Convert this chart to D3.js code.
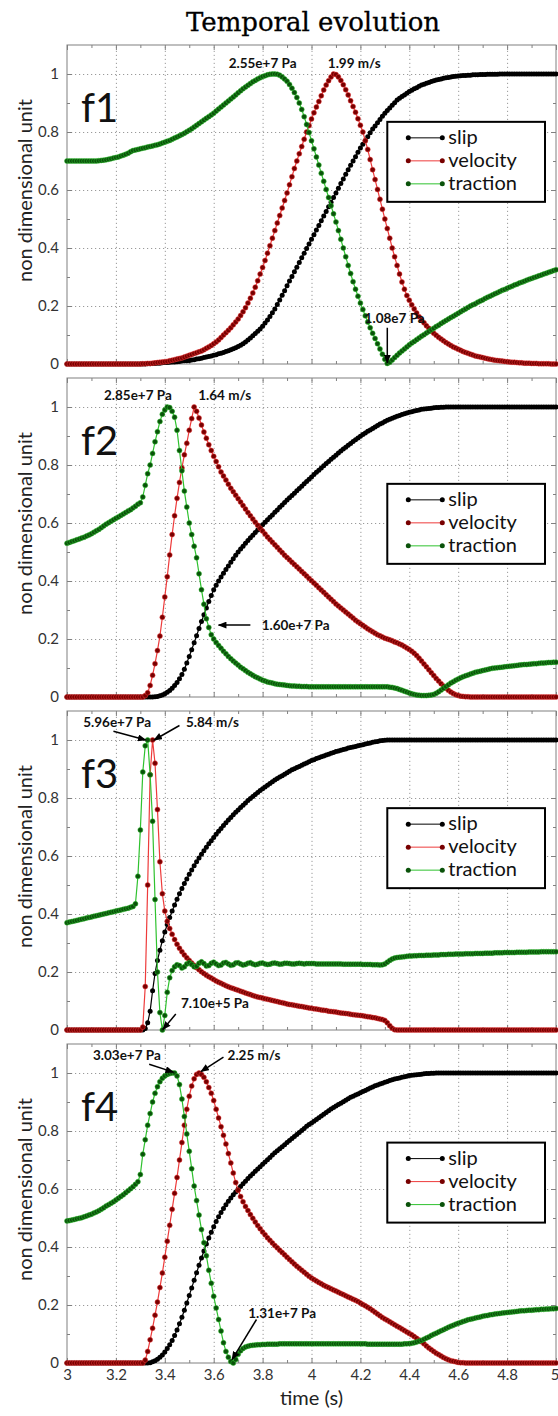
<!DOCTYPE html>
<html>
<head>
<meta charset="utf-8">
<script src="https://cdn.jsdelivr.net/npm/d3@7"></script>
<style>
  body { margin: 0; background: #fff; }
  .grid line { stroke: #9a9a9a; stroke-dasharray: 1.2,2.8; }
  .grid .domain, .ticks .domain { display: none; }
  .ticks line { stroke: #808080; }
</style>
</head>
<body>
<div id="chart"></div>
<script>
// samples every 0.01 s from 3.00 to 5.00 s (201 values per series)
const slipF1 = [
  0,0,0,0,0,0,0,0,0,0,
  0,0,0,0,0,0,0,0,0,0,
  0,0,0,0,0,0,0,0,0,0,
  0,0,0,0.001,0.001,0.002,0.002,0.003,0.003,0.004,
  0.005,0.005,0.006,0.007,0.007,0.008,0.009,0.01,0.011,0.011,
  0.012,0.014,0.015,0.017,0.018,0.02,0.022,0.024,0.026,0.028,
  0.03,0.032,0.035,0.037,0.04,0.043,0.046,0.049,0.053,0.056,
  0.06,0.065,0.07,0.076,0.083,0.09,0.097,0.105,0.113,0.121,
  0.13,0.141,0.152,0.164,0.177,0.19,0.205,0.221,0.237,0.253,
  0.27,0.286,0.302,0.318,0.334,0.35,0.366,0.382,0.398,0.414,
  0.43,0.446,0.462,0.478,0.494,0.51,0.526,0.542,0.558,0.574,
  0.59,0.606,0.622,0.638,0.654,0.67,0.685,0.7,0.715,0.73,
  0.745,0.758,0.771,0.784,0.797,0.81,0.821,0.832,0.843,0.854,
  0.865,0.874,0.883,0.892,0.901,0.91,0.916,0.922,0.928,0.934,
  0.94,0.944,0.949,0.953,0.958,0.962,0.965,0.968,0.971,0.974,
  0.977,0.979,0.981,0.983,0.985,0.987,0.988,0.99,0.991,0.992,
  0.993,0.994,0.995,0.995,0.996,0.996,0.997,0.997,0.997,0.998,
  0.998,0.998,0.999,0.999,0.999,0.999,0.999,1,1,1,
  1,1,1,1,1,1,1,1,1,1,
  1,1,1,1,1,1,1,1,1,1,
  1
];
const velocityF1 = [
  0,0,0,0,0,0,0,0,0,0,
  0,0,0,0,0,0,0,0,0,0,
  0,0,0,0,0,0,0,0,0,0,
  0,0.001,0.001,0.002,0.002,0.003,0.004,0.005,0.006,0.007,
  0.008,0.009,0.011,0.013,0.015,0.017,0.019,0.021,0.024,0.027,
  0.03,0.033,0.036,0.039,0.042,0.045,0.049,0.054,0.059,0.064,
  0.07,0.076,0.083,0.091,0.1,0.108,0.116,0.125,0.135,0.145,
  0.155,0.167,0.18,0.194,0.21,0.227,0.245,0.265,0.287,0.31,
  0.333,0.357,0.382,0.408,0.434,0.46,0.486,0.512,0.538,0.564,
  0.59,0.618,0.646,0.674,0.7,0.725,0.75,0.775,0.8,0.822,
  0.845,0.866,0.886,0.905,0.925,0.945,0.962,0.977,0.99,1,
  0.998,0.99,0.978,0.963,0.946,0.928,0.908,0.888,0.868,0.846,
  0.823,0.8,0.77,0.74,0.705,0.67,0.636,0.602,0.568,0.534,
  0.5,0.467,0.434,0.4,0.37,0.34,0.31,0.283,0.258,0.236,
  0.22,0.204,0.19,0.176,0.163,0.152,0.142,0.132,0.123,0.114,
  0.106,0.099,0.092,0.086,0.08,0.074,0.069,0.064,0.059,0.055,
  0.051,0.047,0.043,0.04,0.037,0.034,0.031,0.028,0.026,0.024,
  0.022,0.02,0.018,0.016,0.015,0.013,0.012,0.011,0.01,0.009,
  0.008,0.007,0.006,0.006,0.005,0.004,0.004,0.003,0.003,0.003,
  0.002,0.002,0.002,0.001,0.001,0.001,0.001,0.001,0,0,
  0
];
const tractionF1 = [
  0.7,0.7,0.7,0.7,0.7,0.7,0.7,0.7,0.7,0.7,
  0.7,0.7,0.7,0.701,0.702,0.703,0.704,0.706,0.708,0.71,
  0.712,0.714,0.717,0.72,0.723,0.727,0.732,0.736,0.738,0.74,
  0.742,0.744,0.746,0.748,0.75,0.752,0.754,0.756,0.759,0.762,
  0.765,0.768,0.771,0.775,0.779,0.783,0.787,0.791,0.796,0.801,
  0.806,0.811,0.817,0.823,0.829,0.835,0.841,0.847,0.853,0.859,
  0.865,0.872,0.879,0.886,0.893,0.9,0.907,0.914,0.921,0.928,
  0.935,0.942,0.949,0.955,0.961,0.967,0.973,0.978,0.983,0.987,
  0.991,0.994,0.997,0.999,1,1,0.999,0.996,0.99,0.983,
  0.975,0.964,0.951,0.936,0.919,0.9,0.878,0.853,0.826,0.798,
  0.77,0.742,0.714,0.686,0.658,0.63,0.602,0.574,0.546,0.518,
  0.49,0.46,0.43,0.4,0.37,0.34,0.312,0.284,0.258,0.234,
  0.21,0.188,0.166,0.145,0.125,0.106,0.088,0.07,0.052,0.034,
  0.016,0.002,0.006,0.014,0.022,0.03,0.038,0.045,0.052,0.059,
  0.066,0.072,0.078,0.084,0.09,0.096,0.101,0.107,0.112,0.118,
  0.123,0.129,0.134,0.14,0.145,0.15,0.155,0.16,0.165,0.17,
  0.175,0.18,0.185,0.19,0.195,0.2,0.204,0.208,0.213,0.217,
  0.221,0.226,0.23,0.234,0.238,0.242,0.246,0.25,0.254,0.257,
  0.261,0.265,0.268,0.272,0.275,0.279,0.282,0.285,0.289,0.292,
  0.295,0.298,0.301,0.304,0.307,0.31,0.313,0.316,0.319,0.322,
  0.325
];

const slipF2 = [
  0,0,0,0,0,0,0,0,0,0,
  0,0,0,0,0,0,0,0,0,0,
  0,0,0,0,0,0,0,0,0,0,
  0,0,0,0,0,0,0.001,0.002,0.004,0.007,
  0.011,0.016,0.022,0.03,0.04,0.05,0.063,0.078,0.096,0.117,
  0.14,0.163,0.187,0.211,0.236,0.26,0.284,0.307,0.329,0.35,
  0.37,0.385,0.4,0.414,0.427,0.44,0.452,0.465,0.477,0.489,
  0.5,0.51,0.52,0.53,0.54,0.549,0.558,0.567,0.576,0.585,
  0.594,0.603,0.611,0.62,0.628,0.637,0.645,0.654,0.662,0.671,
  0.679,0.687,0.695,0.703,0.711,0.719,0.727,0.735,0.743,0.751,
  0.759,0.767,0.775,0.782,0.79,0.797,0.805,0.812,0.82,0.827,
  0.834,0.841,0.848,0.855,0.861,0.868,0.874,0.881,0.887,0.893,
  0.899,0.905,0.91,0.916,0.921,0.926,0.931,0.936,0.941,0.945,
  0.95,0.954,0.958,0.961,0.965,0.968,0.971,0.974,0.977,0.979,
  0.982,0.984,0.986,0.988,0.99,0.992,0.993,0.994,0.995,0.996,
  0.997,0.998,0.998,0.999,0.999,1,1,1,1,1,
  1,1,1,1,1,1,1,1,1,1,
  1,1,1,1,1,1,1,1,1,1,
  1,1,1,1,1,1,1,1,1,1,
  1,1,1,1,1,1,1,1,1,1,
  1
];
const velocityF2 = [
  0,0,0,0,0,0,0,0,0,0,
  0,0,0,0,0,0,0,0,0,0,
  0,0,0,0,0,0,0,0,0,0,
  0,0,0.005,0.015,0.04,0.075,0.115,0.16,0.21,0.275,
  0.345,0.415,0.49,0.56,0.625,0.685,0.74,0.79,0.835,0.875,
  0.92,0.96,1,0.985,0.962,0.938,0.914,0.892,0.87,0.85,
  0.83,0.812,0.794,0.776,0.762,0.748,0.734,0.72,0.708,0.696,
  0.684,0.672,0.66,0.648,0.636,0.625,0.614,0.603,0.592,0.582,
  0.572,0.562,0.552,0.543,0.534,0.525,0.516,0.507,0.498,0.489,
  0.481,0.473,0.465,0.457,0.449,0.441,0.433,0.425,0.417,0.409,
  0.401,0.393,0.385,0.377,0.369,0.361,0.353,0.345,0.337,0.329,
  0.321,0.314,0.307,0.3,0.293,0.286,0.279,0.272,0.265,0.259,
  0.253,0.247,0.241,0.235,0.23,0.225,0.22,0.215,0.211,0.207,
  0.203,0.2,0.197,0.194,0.19,0.187,0.183,0.179,0.174,0.169,
  0.164,0.158,0.151,0.143,0.134,0.124,0.114,0.104,0.094,0.084,
  0.074,0.064,0.055,0.046,0.038,0.03,0.023,0.017,0.012,0.008,
  0.005,0.003,0.002,0.001,0.001,0,0,0,0,0,
  0,0,0,0,0,0,0,0,0,0,
  0,0,0,0,0,0,0,0,0,0,
  0,0,0,0,0,0,0,0,0,0,
  0
];
const tractionF2 = [
  0.53,0.533,0.536,0.539,0.542,0.545,0.548,0.551,0.555,0.559,
  0.563,0.568,0.573,0.578,0.584,0.59,0.596,0.601,0.606,0.611,
  0.616,0.621,0.626,0.631,0.636,0.641,0.646,0.652,0.658,0.665,
  0.67,0.69,0.73,0.77,0.8,0.84,0.88,0.915,0.95,0.975,
  0.99,1,0.998,0.985,0.965,0.92,0.85,0.78,0.71,0.655,
  0.6,0.56,0.52,0.48,0.425,0.37,0.32,0.27,0.24,0.215,
  0.2,0.188,0.178,0.168,0.158,0.149,0.14,0.132,0.124,0.117,
  0.11,0.103,0.097,0.091,0.085,0.08,0.075,0.07,0.066,0.062,
  0.058,0.055,0.052,0.05,0.048,0.046,0.044,0.043,0.042,0.041,
  0.04,0.039,0.038,0.038,0.037,0.037,0.036,0.036,0.036,0.035,
  0.035,0.035,0.035,0.035,0.035,0.035,0.035,0.035,0.035,0.035,
  0.035,0.035,0.035,0.035,0.035,0.035,0.035,0.035,0.035,0.035,
  0.035,0.035,0.035,0.035,0.035,0.035,0.035,0.035,0.035,0.035,
  0.035,0.035,0.034,0.033,0.031,0.029,0.026,0.023,0.02,0.017,
  0.014,0.011,0.009,0.007,0.006,0.005,0.005,0.005,0.006,0.007,
  0.009,0.013,0.018,0.024,0.03,0.036,0.042,0.048,0.053,0.058,
  0.062,0.066,0.07,0.073,0.076,0.079,0.082,0.085,0.087,0.089,
  0.091,0.093,0.095,0.097,0.099,0.1,0.101,0.102,0.103,0.104,
  0.105,0.106,0.107,0.108,0.109,0.11,0.111,0.112,0.112,0.113,
  0.114,0.115,0.115,0.116,0.117,0.117,0.118,0.119,0.119,0.12,
  0.12
];

const slipF3 = [
  0,0,0,0,0,0,0,0,0,0,
  0,0,0,0,0,0,0,0,0,0,
  0,0,0,0,0,0,0,0,0,0,
  0,0,0.005,0.025,0.065,0.135,0.195,0.24,0.275,0.308,
  0.338,0.364,0.388,0.41,0.431,0.451,0.47,0.488,0.505,0.521,
  0.537,0.552,0.566,0.58,0.593,0.606,0.618,0.63,0.642,0.653,
  0.664,0.675,0.685,0.695,0.705,0.715,0.724,0.733,0.742,0.751,
  0.759,0.767,0.775,0.783,0.791,0.798,0.805,0.812,0.819,0.826,
  0.832,0.838,0.844,0.85,0.856,0.862,0.867,0.872,0.877,0.882,
  0.887,0.892,0.897,0.901,0.905,0.909,0.913,0.917,0.921,0.925,
  0.929,0.932,0.936,0.939,0.942,0.945,0.948,0.951,0.954,0.957,
  0.96,0.962,0.965,0.967,0.969,0.972,0.974,0.976,0.978,0.98,
  0.982,0.984,0.986,0.988,0.99,0.992,0.994,0.995,0.997,0.998,
  0.999,1,1,1,1,1,1,1,1,1,
  1,1,1,1,1,1,1,1,1,1,
  1,1,1,1,1,1,1,1,1,1,
  1,1,1,1,1,1,1,1,1,1,
  1,1,1,1,1,1,1,1,1,1,
  1,1,1,1,1,1,1,1,1,1,
  1,1,1,1,1,1,1,1,1,1,
  1
];
const velocityF3 = [
  0,0,0,0,0,0,0,0,0,0,
  0,0,0,0,0,0,0,0,0,0,
  0,0,0,0,0,0,0,0,0,0,
  0,0.01,0.15,0.5,0.88,1,0.92,0.76,0.58,0.47,
  0.41,0.375,0.35,0.33,0.312,0.296,0.282,0.27,0.259,0.249,
  0.24,0.231,0.223,0.215,0.208,0.201,0.195,0.189,0.184,0.179,
  0.174,0.169,0.165,0.161,0.157,0.153,0.149,0.146,0.143,0.14,
  0.137,0.134,0.131,0.128,0.125,0.122,0.119,0.116,0.114,0.112,
  0.11,0.108,0.106,0.104,0.102,0.1,0.098,0.096,0.094,0.092,
  0.09,0.088,0.087,0.085,0.084,0.082,0.081,0.079,0.078,0.076,
  0.075,0.073,0.072,0.071,0.069,0.068,0.067,0.065,0.064,0.063,
  0.062,0.06,0.059,0.058,0.057,0.056,0.054,0.053,0.052,0.051,
  0.05,0.049,0.047,0.046,0.045,0.043,0.042,0.04,0.038,0.036,
  0.033,0.025,0.015,0.006,0.001,0,0,0,0,0,
  0,0,0,0,0,0,0,0,0,0,
  0,0,0,0,0,0,0,0,0,0,
  0,0,0,0,0,0,0,0,0,0,
  0,0,0,0,0,0,0,0,0,0,
  0,0,0,0,0,0,0,0,0,0,
  0,0,0,0,0,0,0,0,0,0,
  0
];
const tractionF3 = [
  0.37,0.372,0.374,0.376,0.378,0.38,0.382,0.384,0.386,0.388,
  0.39,0.392,0.394,0.396,0.398,0.4,0.402,0.404,0.406,0.408,
  0.41,0.412,0.414,0.416,0.418,0.42,0.423,0.426,0.435,0.53,
  0.69,0.89,0.98,1,0.88,0.72,0.45,0.2,0.06,0,
  0.05,0.13,0.18,0.205,0.218,0.225,0.222,0.214,0.218,0.228,
  0.232,0.226,0.218,0.22,0.23,0.235,0.229,0.221,0.222,0.23,
  0.234,0.228,0.222,0.224,0.231,0.233,0.228,0.223,0.225,0.231,
  0.232,0.228,0.224,0.226,0.23,0.232,0.228,0.225,0.227,0.23,
  0.231,0.228,0.226,0.227,0.23,0.231,0.229,0.227,0.228,0.23,
  0.23,0.229,0.228,0.228,0.229,0.23,0.229,0.228,0.229,0.229,
  0.229,0.229,0.228,0.228,0.228,0.228,0.228,0.228,0.228,0.228,
  0.228,0.228,0.228,0.227,0.227,0.227,0.227,0.227,0.227,0.227,
  0.227,0.226,0.226,0.226,0.226,0.225,0.225,0.225,0.224,0.225,
  0.228,0.234,0.24,0.245,0.248,0.25,0.251,0.252,0.253,0.254,
  0.255,0.255,0.256,0.256,0.257,0.257,0.257,0.258,0.258,0.258,
  0.259,0.259,0.259,0.26,0.26,0.26,0.261,0.261,0.261,0.262,
  0.262,0.262,0.262,0.263,0.263,0.263,0.263,0.264,0.264,0.264,
  0.264,0.265,0.265,0.265,0.265,0.266,0.266,0.266,0.266,0.267,
  0.267,0.267,0.267,0.267,0.268,0.268,0.268,0.268,0.268,0.269,
  0.269,0.269,0.269,0.269,0.27,0.27,0.27,0.27,0.27,0.27,
  0.27
];

const slipF4 = [
  0,0,0,0,0,0,0,0,0,0,
  0,0,0,0,0,0,0,0,0,0,
  0,0,0,0,0,0,0,0,0,0,
  0,0,0,0,0.001,0.004,0.008,0.013,0.02,0.028,
  0.038,0.05,0.063,0.078,0.095,0.114,0.135,0.158,0.182,0.207,
  0.233,0.259,0.285,0.311,0.337,0.362,0.386,0.41,0.431,0.451,
  0.47,0.488,0.504,0.519,0.533,0.546,0.558,0.569,0.58,0.59,
  0.6,0.609,0.618,0.627,0.636,0.645,0.653,0.661,0.669,0.677,
  0.685,0.693,0.701,0.709,0.717,0.725,0.732,0.739,0.746,0.753,
  0.76,0.767,0.774,0.781,0.788,0.795,0.802,0.809,0.816,0.822,
  0.828,0.834,0.84,0.846,0.852,0.858,0.864,0.87,0.876,0.881,
  0.886,0.891,0.896,0.901,0.906,0.911,0.916,0.92,0.924,0.928,
  0.932,0.936,0.94,0.944,0.948,0.952,0.956,0.959,0.962,0.965,
  0.968,0.971,0.974,0.977,0.979,0.981,0.983,0.985,0.987,0.989,
  0.991,0.992,0.993,0.994,0.995,0.996,0.997,0.998,0.998,0.999,
  0.999,1,1,1,1,1,1,1,1,1,
  1,1,1,1,1,1,1,1,1,1,
  1,1,1,1,1,1,1,1,1,1,
  1,1,1,1,1,1,1,1,1,1,
  1,1,1,1,1,1,1,1,1,1,
  1
];
const velocityF4 = [
  0,0,0,0,0,0,0,0,0,0,
  0,0,0,0,0,0,0,0,0,0,
  0,0,0,0,0,0,0,0,0,0,
  0,0,0.01,0.04,0.08,0.12,0.165,0.21,0.26,0.31,
  0.365,0.42,0.475,0.53,0.585,0.64,0.7,0.76,0.82,0.875,
  0.92,0.955,0.98,0.995,1,0.995,0.985,0.97,0.95,0.93,
  0.905,0.875,0.845,0.815,0.785,0.755,0.722,0.69,0.655,0.622,
  0.596,0.574,0.556,0.54,0.526,0.512,0.499,0.486,0.474,0.463,
  0.452,0.442,0.432,0.423,0.414,0.405,0.397,0.389,0.381,0.373,
  0.365,0.357,0.349,0.341,0.334,0.327,0.32,0.313,0.306,0.299,
  0.293,0.288,0.283,0.278,0.273,0.268,0.264,0.26,0.256,0.252,
  0.248,0.244,0.24,0.236,0.232,0.228,0.224,0.22,0.216,0.212,
  0.207,0.202,0.197,0.192,0.187,0.181,0.175,0.169,0.163,0.157,
  0.152,0.147,0.142,0.137,0.132,0.127,0.122,0.117,0.112,0.107,
  0.102,0.097,0.091,0.085,0.079,0.073,0.066,0.059,0.052,0.046,
  0.04,0.034,0.029,0.024,0.019,0.015,0.011,0.008,0.006,0.004,
  0.002,0.001,0.001,0,0,0,0,0,0,0,
  0,0,0,0,0,0,0,0,0,0,
  0,0,0,0,0,0,0,0,0,0,
  0,0,0,0,0,0,0,0,0,0,
  0
];
const tractionF4 = [
  0.49,0.491,0.493,0.495,0.497,0.499,0.501,0.504,0.507,0.51,
  0.513,0.517,0.521,0.525,0.53,0.535,0.541,0.546,0.551,0.556,
  0.562,0.568,0.574,0.58,0.587,0.594,0.601,0.608,0.616,0.625,
  0.65,0.72,0.77,0.82,0.86,0.9,0.93,0.953,0.97,0.982,
  0.99,0.995,0.998,1,1,0.99,0.96,0.91,0.85,0.79,
  0.73,0.67,0.61,0.56,0.51,0.46,0.415,0.37,0.32,0.275,
  0.23,0.19,0.15,0.11,0.07,0.04,0.02,0.005,0,0.012,
  0.03,0.042,0.05,0.055,0.058,0.06,0.061,0.062,0.063,0.063,
  0.064,0.064,0.065,0.065,0.065,0.065,0.065,0.066,0.066,0.066,
  0.066,0.066,0.066,0.066,0.066,0.066,0.066,0.066,0.066,0.066,
  0.066,0.066,0.066,0.066,0.066,0.066,0.066,0.066,0.066,0.066,
  0.066,0.066,0.066,0.066,0.066,0.066,0.066,0.066,0.066,0.066,
  0.066,0.066,0.066,0.065,0.065,0.065,0.065,0.065,0.065,0.065,
  0.065,0.065,0.065,0.065,0.065,0.065,0.065,0.065,0.066,0.066,
  0.067,0.068,0.07,0.072,0.075,0.078,0.082,0.086,0.09,0.095,
  0.099,0.103,0.107,0.111,0.115,0.119,0.123,0.127,0.13,0.134,
  0.137,0.14,0.143,0.146,0.149,0.151,0.153,0.155,0.157,0.159,
  0.161,0.163,0.164,0.166,0.167,0.169,0.17,0.171,0.172,0.173,
  0.174,0.175,0.176,0.177,0.178,0.179,0.18,0.18,0.181,0.182,
  0.182,0.183,0.184,0.184,0.185,0.185,0.186,0.186,0.187,0.187,
  0.188
];

const panelLabels = ["f1", "f2", "f3", "f4"];
const seriesNames = ["slip", "velocity", "traction"];
const xTicks = [3, 3.2, 3.4, 3.6, 3.8, 4, 4.2, 4.4, 4.6, 4.8, 5];
const xMinor = [3.1, 3.3, 3.5, 3.7, 3.9, 4.1, 4.3, 4.5, 4.7, 4.9];
const yTicks = [0, 0.2, 0.4, 0.6, 0.8, 1];
const yMinor = [0.1, 0.3, 0.5, 0.7, 0.9];
const legendTop = [0.835, 0.735, 0.765, 0.76];

// peak / minimum annotations, in data units
const notesF1 = [
  { text: "2.55e+7 Pa", tx: 3.80, ty: 1.022 },
  { text: "1.99 m/s", tx: 4.175, ty: 1.022 },
  { text: "1.08e7 Pa", tx: 4.34, ty: 0.142, x1: 4.31, y1: 0.125, x2: 4.31, y2: 0.004 }
];
const notesF2 = [
  { text: "2.85e+7 Pa", tx: 3.29, ty: 1.025 },
  { text: "1.64 m/s", tx: 3.645, ty: 1.025 },
  { text: "1.60e+7 Pa", tx: 3.935, ty: 0.23, x1: 3.75, y1: 0.248, x2: 3.62, y2: 0.248 }
];
const notesF3 = [
  { text: "5.96e+7 Pa", tx: 3.205, ty: 1.045, x1: 3.19, y1: 1.03, x2: 3.322, y2: 1.0 },
  { text: "5.84 m/s", tx: 3.595, ty: 1.045, x1: 3.46, y1: 1.05, x2: 3.356, y2: 1.0 },
  { text: "7.10e+5 Pa", tx: 3.605, ty: 0.075, x1: 3.445, y1: 0.055, x2: 3.392, y2: 0.002 }
];
const notesF4 = [
  { text: "3.03e+7 Pa", tx: 3.245, ty: 1.045, x1: 3.336, y1: 1.03, x2: 3.435, y2: 1.003 },
  { text: "2.25 m/s", tx: 3.765, ty: 1.045, x1: 3.64, y1: 1.055, x2: 3.548, y2: 1.005 },
  { text: "1.31e+7 Pa", tx: 3.88, ty: 0.155, x1: 3.775, y1: 0.15, x2: 3.675, y2: 0.012 }
];

const time = d3.range(201).map(i => Math.round((3 + i * 0.01) * 100) / 100);

const panels = [
  { slip: slipF1, velocity: velocityF1, traction: tractionF1, notes: notesF1 },
  { slip: slipF2, velocity: velocityF2, traction: tractionF2, notes: notesF2 },
  { slip: slipF3, velocity: velocityF3, traction: tractionF3, notes: notesF3 },
  { slip: slipF4, velocity: velocityF4, traction: tractionF4, notes: notesF4 }
];
panels.forEach((p, i) => seriesNames.forEach(s => {
  if (p[s].length !== time.length) throw new Error(`${panelLabels[i]} ${s}: ${p[s].length}`);
}));

const lineColor = { slip: "#000", velocity: "#ee3b3b", traction: "#2fc22f" };
const dotColor = { slip: "#000", velocity: "#780000", traction: "#0a520a" };

const width = 558, height = 1416;
const left = 67, right = 556;
const panelH = 319, firstTop = 45, panelStep = 333;
const font = "Lato, 'Open Sans', sans-serif";

const svg = d3.select("#chart").append("svg")
  .attr("width", width)
  .attr("height", height)
  .style("font-family", font);

svg.append("defs").append("marker")
  .attr("id", "arrow")
  .attr("viewBox", "0 0 10 8")
  .attr("refX", 9).attr("refY", 4)
  .attr("markerUnits", "userSpaceOnUse")
  .attr("markerWidth", 9).attr("markerHeight", 7)
  .attr("orient", "auto")
  .append("path")
  .attr("d", "M0,0L10,4L0,8Z")
  .attr("fill", "#000");

const x = d3.scaleLinear().domain([3, 5]).range([left, right]);
const y = d3.scaleLinear().domain([0, 1.1]).range([panelH, 0]);

svg.append("text")
  .attr("x", 313).attr("y", 31)
  .attr("text-anchor", "middle")
  .style("font-family", "'DejaVu Serif', serif")
  .style("font-size", "26px")
  .attr("fill", "#000")
  .attr("stroke", "#000").attr("stroke-width", 0.3)
  .text("Temporal evolution");

panels.forEach((p, i) => {
  const top = firstTop + i * panelStep;
  const g = svg.append("g").attr("transform", `translate(0,${top})`);

  // dotted grid
  g.append("g").attr("class", "grid")
    .attr("transform", `translate(0,${panelH})`)
    .call(d3.axisBottom(x).tickValues(xTicks.slice(1, -1)).tickSize(-panelH).tickFormat(""));
  g.append("g").attr("class", "grid")
    .attr("transform", `translate(${left},0)`)
    .call(d3.axisLeft(y).tickValues(yTicks.slice(1)).tickSize(-(right - left)).tickFormat(""));

  // inward ticks on all four sides
  const sides = [
    [d3.axisBottom, x, `translate(0,${panelH})`],
    [d3.axisTop, x, "translate(0,0)"],
    [d3.axisLeft, y, `translate(${left},0)`],
    [d3.axisRight, y, `translate(${right},0)`]
  ];
  sides.forEach(([axis, scale, tr], k) => {
    const major = k < 2 ? xTicks : yTicks;
    const minor = k < 2 ? xMinor : yMinor;
    g.append("g").attr("class", "ticks").attr("transform", tr)
      .call(axis(scale).tickValues(major).tickSize(-5).tickFormat(""));
    g.append("g").attr("class", "ticks").attr("transform", tr)
      .call(axis(scale).tickValues(minor).tickSize(-3).tickFormat(""));
  });

  g.append("rect")
    .attr("x", left).attr("y", 0)
    .attr("width", right - left).attr("height", panelH)
    .attr("fill", "none").attr("stroke", "#808080");

  // y tick labels
  const yl = g.append("g").attr("transform", `translate(${left},0)`)
    .call(d3.axisLeft(y).tickValues(yTicks).tickSize(0).tickPadding(8).tickFormat(d => d));
  yl.select(".domain").remove();
  yl.selectAll("text").style("font-size", "15px").style("font-family", font).attr("fill", "#333");

  if (i === panels.length - 1) {
    const xl = g.append("g").attr("transform", `translate(0,${panelH})`)
      .call(d3.axisBottom(x).tickValues(xTicks).tickSize(0).tickPadding(6).tickFormat(d => d));
    xl.select(".domain").remove();
    xl.selectAll("text").style("font-size", "15px").style("font-family", font).attr("fill", "#333");
    // the last label sits at the page edge; keep it inside
    xl.selectAll("text").filter(d => d === 5).attr("text-anchor", "end").attr("dx", "3");

    g.append("text")
      .attr("x", x(4)).attr("y", panelH + 42)
      .attr("text-anchor", "middle")
      .style("font-size", "20px")
      .attr("fill", "#222")
      .text("time (s)");
  }

  g.append("text")
    .attr("transform", `translate(32,${panelH / 2 - 14}) rotate(-90)`)
    .attr("text-anchor", "middle")
    .style("font-size", "20px")
    .attr("fill", "#222")
    .text("non dimensional unit");

  g.append("text")
    .attr("x", 81).attr("y", 77)
    .style("font-size", "40px")
    .attr("fill", "#111")
    .text(panelLabels[i]);

  // curves: slip, velocity, traction (last on top)
  const line = d3.line().x((d, j) => x(time[j])).y(d => y(d));
  seriesNames.forEach(s => {
    g.append("path")
      .datum(p[s])
      .attr("d", line)
      .attr("fill", "none")
      .attr("stroke", lineColor[s])
      .attr("stroke-width", 1.2);
    g.append("g").selectAll("circle")
      .data(p[s])
      .join("circle")
      .attr("cx", (d, j) => x(time[j]))
      .attr("cy", d => y(d))
      .attr("r", 2.5)
      .attr("fill", dotColor[s])
      .attr("stroke", s === "slip" ? "none" : lineColor[s])
      .attr("stroke-width", 0.5);
  });

  // legend
  const bx = x(4.31), by = y(legendTop[i]);
  const lg = g.append("g");
  lg.append("rect")
    .attr("x", bx).attr("y", by)
    .attr("width", x(4.955) - bx).attr("height", 80)
    .attr("fill", "#fff").attr("stroke", "#000").attr("stroke-width", 2);
  seriesNames.forEach((s, k) => {
    const ry = by + 16 + k * 23;
    lg.append("line")
      .attr("x1", bx + 21).attr("x2", bx + 55)
      .attr("y1", ry).attr("y2", ry)
      .attr("stroke", lineColor[s]).attr("stroke-width", 1);
    [bx + 21, bx + 55].forEach(cx => lg.append("circle")
      .attr("cx", cx).attr("cy", ry).attr("r", 2.5).attr("fill", dotColor[s]));
    lg.append("text")
      .attr("x", bx + 61).attr("y", ry + 6)
      .style("font-size", "20px")
      .attr("fill", "#111")
      .text(s);
  });

  // annotations
  p.notes.forEach(n => {
    g.append("text")
      .attr("x", x(n.tx)).attr("y", y(n.ty))
      .attr("text-anchor", "middle")
      .style("font-size", "13.5px")
      .style("font-weight", "bold")
      .attr("fill", "#111")
      .text(n.text);
    if (n.x1 !== undefined) {
      g.append("line")
        .attr("x1", x(n.x1)).attr("y1", y(n.y1))
        .attr("x2", x(n.x2)).attr("y2", y(n.y2))
        .attr("stroke", "#000").attr("stroke-width", 1.5)
        .attr("marker-end", "url(#arrow)");
    }
  });
});
</script>
</body>
</html>
